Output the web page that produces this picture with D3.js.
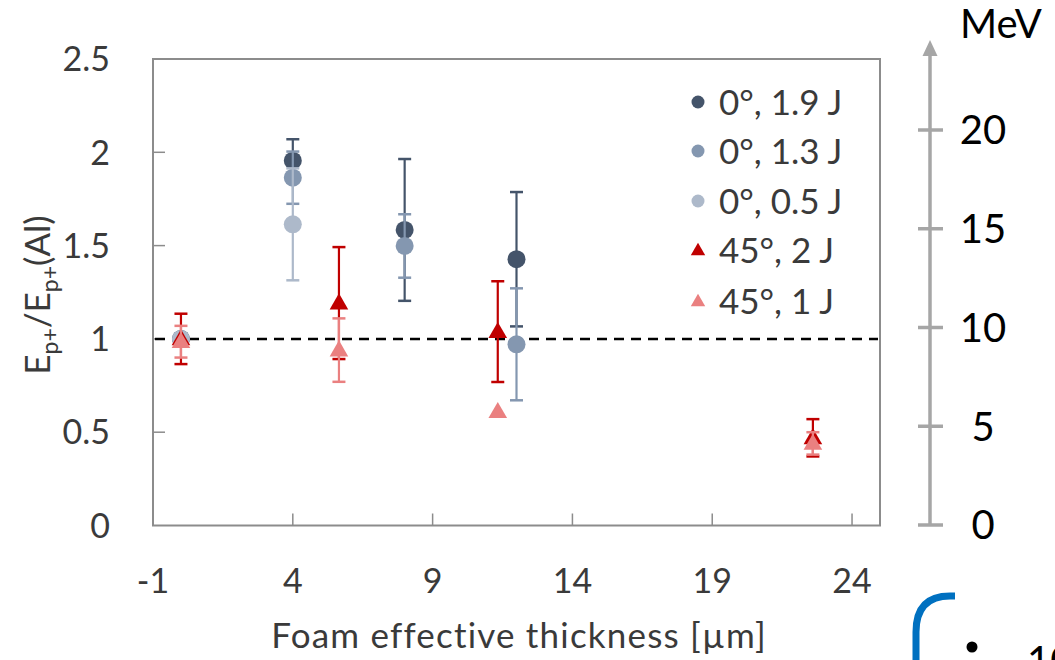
<!DOCTYPE html>
<html><head><meta charset="utf-8">
<script src="https://cdn.jsdelivr.net/npm/d3@7"></script>
<style>
html,body{margin:0;padding:0;background:#fff;}
svg{display:block;font-family:Lato,"Open Sans",sans-serif;}
</style></head>
<body><svg id="chart" width="1055" height="660"></svg>
<script>
// ---- data ----
const seriesNames = ["0°, 1.9 J","0°, 1.3 J","0°, 0.5 J","45°, 2 J","45°, 1 J"];
const seriesColors = ["#44546a","#8497b0","#adb9ca","#c00000","#ea8080"];
const seriesShapes = ["circle","circle","circle","triangle","triangle"];
const s0_x = [0, 4, 8, 12];
const s0_y = [1.0, 1.955, 1.584, 1.427];
const s0_e = [0, 0.115, 0.38, 0.36];
const s1_x = [0, 4, 8, 12];
const s1_y = [1.0, 1.864, 1.498, 0.971];
const s1_e = [0, 0.14, 0.17, 0.30];
const s2_x = [0, 4];
const s2_y = [1.0, 1.614];
const s2_e = [0, 0.30];
const s3_x = [0, 5.65, 11.33, 22.6];
const s3_y = [1.0, 1.192, 1.039, 0.47];
const s3_e = [0.135, 0.30, 0.27, 0.10];
const s4_x = [0, 5.65, 11.33, 22.6];
const s4_y = [0.985, 0.94, 0.61, 0.44];
const s4_e = [0.085, 0.17, 0, 0.06];
const xTicks = [-1, 4, 9, 14, 19, 24];
const yTicks = [0, 0.5, 1, 1.5, 2, 2.5];
const yTickLabels = ["0","0.5","1","1.5","2","2.5"];
const mevTicks = [0, 5, 10, 15, 20];
const refLine = 1;

const seriesX = [s0_x,s1_x,s2_x,s3_x,s4_x];
const seriesY = [s0_y,s1_y,s2_y,s3_y,s4_y];
const seriesE = [s0_e,s1_e,s2_e,s3_e,s4_e];

const svg = d3.select("#chart");
const x = d3.scaleLinear().domain([-1, 25]).range([153, 880]);
const y = d3.scaleLinear().domain([0, 2.5]).range([525.5, 59]);
const frameColor = "#8c8c8c";
const textColor = "#3a3a3a";

// frame
svg.append("rect").attr("x", x(-1)).attr("y", y(2.5))
  .attr("width", x(25)-x(-1)).attr("height", y(0)-y(2.5))
  .attr("fill","none").attr("stroke", frameColor).attr("stroke-width",2);

// inner ticks
svg.append("g").selectAll("line").data(xTicks.slice(1)).join("line")
  .attr("x1", d=>x(d)).attr("x2", d=>x(d)).attr("y1", y(0)).attr("y2", y(0)-12)
  .attr("stroke", frameColor).attr("stroke-width",1.5);
svg.append("g").selectAll("line").data(yTicks.slice(1,-1)).join("line")
  .attr("x1", x(-1)).attr("x2", x(-1)+12).attr("y1", d=>y(d)).attr("y2", d=>y(d))
  .attr("stroke", frameColor).attr("stroke-width",1.5);

// tick labels
svg.append("g").selectAll("text").data(yTicks).join("text")
  .attr("x", 110).attr("y", d=>y(d)).attr("dy","0.36em")
  .attr("text-anchor","end").attr("font-size",34).attr("fill",textColor)
  .text((d,i)=>yTickLabels[i]);
svg.append("g").selectAll("text").data(xTicks).join("text")
  .attr("x", d=>x(d)).attr("y", 581).attr("dy","0.36em")
  .attr("text-anchor","middle").attr("font-size",34).attr("fill",textColor)
  .text(d=>d);

// axis titles
svg.append("text").attr("x", 519).attr("y", 648)
  .attr("text-anchor","middle").attr("font-size",35).attr("letter-spacing",1.2).attr("fill",textColor)
  .text("Foam effective thickness [µm]");
const yt = svg.append("text").attr("transform","translate(50,295) rotate(-90)")
  .attr("text-anchor","middle").attr("font-size",35).attr("fill",textColor);
yt.append("tspan").text("E");
yt.append("tspan").attr("font-size",23).attr("dy",8).text("p+");
yt.append("tspan").attr("dy",-8).text("/E");
yt.append("tspan").attr("font-size",23).attr("dy",8).text("p+");
yt.append("tspan").attr("dy",-8).text("(Al)");

// reference dashed line
svg.append("line").attr("x1", x(-1)+2).attr("x2", x(25)-2)
  .attr("y1", y(refLine)).attr("y2", y(refLine))
  .attr("stroke","#000").attr("stroke-width",2.5).attr("stroke-dasharray","10,7");

// series
const tri = d3.symbol().type(d3.symbolTriangle).size(150);
seriesNames.forEach((name, si) => {
  const pts = seriesX[si].map((xv,i)=>({x:xv, y:seriesY[si][i], e:seriesE[si][i]}));
  const g = svg.append("g");
  const col = seriesColors[si];
  const eb = pts.filter(p=>p.e>0);
  g.selectAll("line.v").data(eb).join("line")
    .attr("x1", p=>x(p.x)).attr("x2", p=>x(p.x))
    .attr("y1", p=>y(p.y+p.e)).attr("y2", p=>y(p.y-p.e))
    .attr("stroke", col).attr("stroke-width",2.2);
  [1,-1].forEach(sg=>{
    g.selectAll("line.c"+sg).data(eb).join("line")
      .attr("x1", p=>x(p.x)-6.5).attr("x2", p=>x(p.x)+6.5)
      .attr("y1", p=>y(p.y+sg*p.e)).attr("y2", p=>y(p.y+sg*p.e))
      .attr("stroke", col).attr("stroke-width",2.5);
  });
  if (seriesShapes[si]==="circle") {
    g.selectAll("circle").data(pts).join("circle")
      .attr("cx", p=>x(p.x)).attr("cy", p=>y(p.y)).attr("r",9).attr("fill",col);
  } else {
    g.selectAll("path").data(pts).join("path")
      .attr("d", tri).attr("transform", p=>`translate(${x(p.x)},${y(p.y)+1})`).attr("fill",col);
  }
});

// legend
const legY = [102, 151, 201, 250, 301];
const lg = svg.append("g");
seriesNames.forEach((name, si) => {
  if (seriesShapes[si]==="circle") {
    lg.append("circle").attr("cx",698).attr("cy",legY[si]).attr("r",6.5).attr("fill",seriesColors[si]);
  } else {
    lg.append("path").attr("d", d3.symbol().type(d3.symbolTriangle).size(90))
      .attr("transform",`translate(698,${legY[si]+1})`).attr("fill",seriesColors[si]);
  }
  lg.append("text").attr("x",719).attr("y",legY[si]).attr("dy","0.36em")
    .attr("font-size",35).attr("fill",textColor).text(name);
});

// right MeV axis
const m = d3.scaleLinear().domain([0, 20]).range([525, 130]);
const axCol = "#a6a6a6";
svg.append("line").attr("x1",930).attr("x2",930).attr("y1",m(0)).attr("y2",52)
  .attr("stroke",axCol).attr("stroke-width",3.5);
svg.append("path").attr("d","M930,40 L922.5,56 L937.5,56 Z").attr("fill",axCol);
svg.append("g").selectAll("line").data(mevTicks).join("line")
  .attr("x1",918).attr("x2",943).attr("y1",d=>m(d)).attr("y2",d=>m(d))
  .attr("stroke",axCol).attr("stroke-width",3.5);
svg.append("g").selectAll("text").data(mevTicks).join("text")
  .attr("x",983).attr("y",d=>m(d)).attr("dy","0.36em").attr("text-anchor","middle")
  .attr("font-size",40).attr("fill","#000").text(d=>d);
svg.append("text").attr("x",960).attr("y",38).attr("font-size",40).attr("fill","#000").text("MeV");

// decorative slide fragment (bottom-right)
svg.append("path").attr("d","M955,596 L950,596 Q916,596 916,632 L916,665")
  .attr("fill","none").attr("stroke","#0070c0").attr("stroke-width",7);
svg.append("circle").attr("cx",972).attr("cy",647).attr("r",5.5).attr("fill","#000");
svg.append("text").attr("x",1027).attr("y",675).attr("font-size",40).attr("fill","#000").text("10");
</script></body></html>
